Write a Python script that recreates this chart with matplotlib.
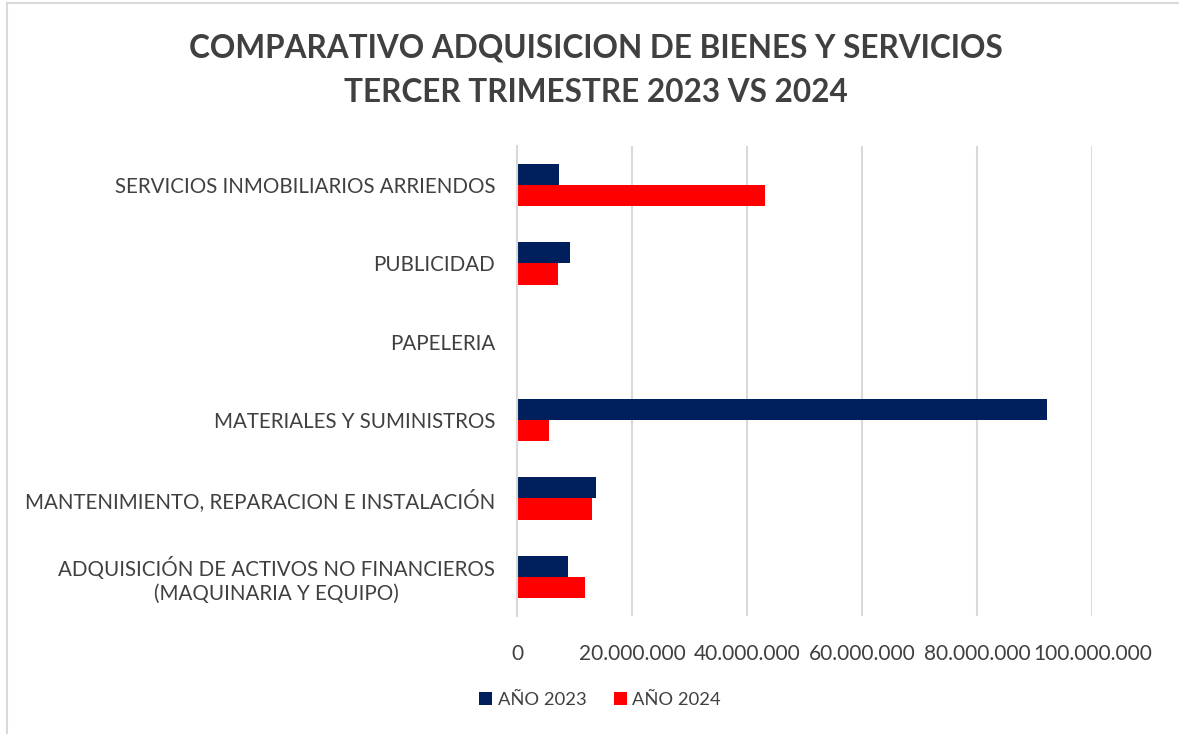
import matplotlib.pyplot as plt
from matplotlib.patches import Rectangle
from matplotlib.ticker import FuncFormatter
import numpy as np

# data (top to bottom as shown)
categorias = ['SERVICIOS INMOBILIARIOS ARRIENDOS',
              'PUBLICIDAD',
              'PAPELERIA',
              'MATERIALES Y SUMINISTROS',
              'MANTENIMIENTO, REPARACION E INSTALACIÓN',
              'ADQUISICIÓN DE ACTIVOS NO FINANCIEROS\n(MAQUINARIA Y EQUIPO)']
anio_2023 = [7300000, 9200000, 0, 92200000, 13700000, 8900000]
anio_2024 = [43100000, 7000000, 0, 5500000, 13000000, 11700000]
ticks_x = [0, 20000000, 40000000, 60000000, 80000000, 100000000]

gris = '#404040'
azul = '#001f5c'
rojo = '#ff0000'

plt.rcParams['font.family'] = ['Lato', 'DejaVu Sans']

fig = plt.figure(figsize=(11.79, 7.34), dpi=100)
ax = fig.add_axes([517.3 / 1179, 1 - 616 / 734, (1092.3 - 517.3) / 1179, (616 - 146) / 734])

# chart border like the excel frame
fig.patches.append(Rectangle((6.5 / 1179, -0.1), 1.2, 1 - 2.5 / 734 + 0.1,
                             transform=fig.transFigure, fill=False,
                             edgecolor='#d9d9d9', linewidth=1.5))

y = np.arange(len(categorias))
h = 0.27
ax.barh(y - h / 2, anio_2023, height=h, color=azul, label='AÑO 2023')
ax.barh(y + h / 2, anio_2024, height=h, color=rojo, label='AÑO 2024')

ax.set_ylim(len(categorias) - 0.5, -0.5)
ax.set_xlim(0, 100000000)
ax.set_yticks(y)
ax.set_yticklabels(categorias, fontsize=14.8, color=gris, multialignment='center')
ax.set_xticks(ticks_x)
ax.xaxis.set_major_formatter(FuncFormatter(lambda v, p: '0' if v == 0 else f'{int(v):,}'.replace(',', '.')))
ax.tick_params(axis='x', labelsize=15, labelcolor=gris, length=0, pad=20)
ax.tick_params(axis='y', length=0, pad=16)

ax.grid(axis='x', color='#d9d9d9', linewidth=1.5)
ax.set_axisbelow(True)
for s in ['top', 'right', 'bottom']:
    ax.spines[s].set_visible(False)
ax.spines['left'].set_color('#d9d9d9')
ax.spines['left'].set_linewidth(1.5)

fig.text(596 / 1179, 1 - 48 / 734, 'COMPARATIVO ADQUISICION DE BIENES Y SERVICIOS',
         ha='center', va='center', fontsize=22.7, fontweight='bold', color=gris)
fig.text(596 / 1179, 1 - 92 / 734, 'TERCER TRIMESTRE 2023 VS 2024',
         ha='center', va='center', fontsize=22.7, fontweight='bold', color=gris)

fig.legend(loc='center', bbox_to_anchor=(600 / 1179, 1 - 700 / 734), ncol=2,
           frameon=False, fontsize=13.2, labelcolor=gris, handlelength=0.7,
           handleheight=0.7, handletextpad=0.3, columnspacing=1.5)

fig.savefig('out.png', dpi=100, facecolor='white')
